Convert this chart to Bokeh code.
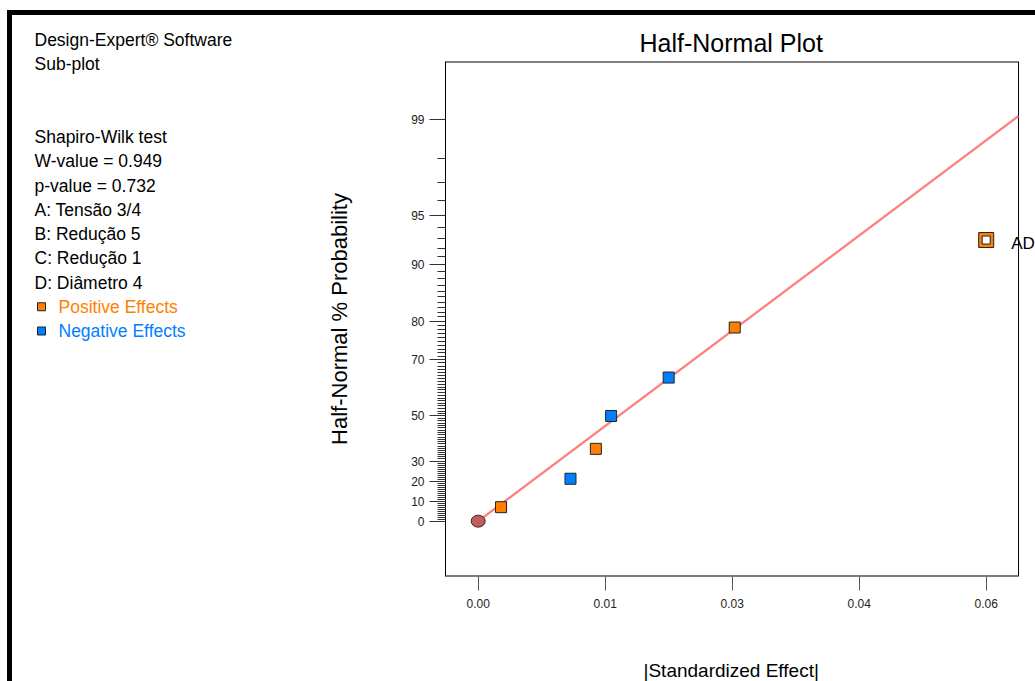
import math
from bokeh.plotting import figure
from bokeh.layouts import row
from bokeh.models import FixedTicker, LabelSet, ColumnDataSource, Range1d, Title
from bokeh.core.properties import value
from bokeh.embed import file_html
from bokeh.resources import INLINE

# ---------------- data ----------------
effect_size = [0.0027, 0.0109, 0.0139, 0.0157, 0.0225, 0.0303, 0.0600]
effect_sign = ["pos", "neg", "pos", "neg", "neg", "pos", "pos"]
half_normal_prob = [7.14, 21.43, 35.71, 50.0, 64.29, 78.57, 92.86]
effect_term = ["", "", "", "", "", "", "AD"]
selected_term = ["AD"]

origin_effect = [0.0]
origin_prob = [0.0]

fit_effect = [0.0, 0.0638]
fit_prob = [0.0, 99.06]

y_tick_probs = [0, 10, 20, 30, 50, 70, 80, 90, 95, 99]
y_tick_labels = ["0", "10", "20", "30", "50", "70", "80", "90", "95", "99"]
x_tick_values = [0.0, 0.015, 0.03, 0.045, 0.06]
x_tick_labels = ["0.00", "0.01", "0.03", "0.04", "0.06"]

info_lines = [
    (0, "Design-Expert® Software"),
    (1, "Sub-plot"),
    (4, "Shapiro-Wilk test"),
    (5, "W-value = 0.949"),
    (6, "p-value = 0.732"),
    (7, "A: Tensão 3/4"),
    (8, "B: Redução 5"),
    (9, "C: Redução 1"),
    (10, "D: Diâmetro 4"),
]
legend_items = [(11, "Positive Effects", "pos"), (12, "Negative Effects", "neg")]

# ---------------- helpers ----------------
def norm_cdf(z):
    return 0.5 * (1.0 + math.erf(z / math.sqrt(2.0)))

def norm_ppf(q):
    lo, hi = -10.0, 10.0
    for _ in range(200):
        mid = 0.5 * (lo + hi)
        if norm_cdf(mid) < q:
            lo = mid
        else:
            hi = mid
    return 0.5 * (lo + hi)

def half_normal(pct):
    if pct <= 0:
        return 0.0
    return norm_ppf(0.5 + pct / 200.0)

COLORS = {"pos": "#ff8000", "neg": "#0080ff"}
SANS = "Liberation Sans"

# ---------------- page geometry (px) ----------------
PAGE_X0, PAGE_Y0 = 12, 15          # top-left of the drawing area (inside black border)
PAGE_X1, PAGE_Y1 = 1035, 681
SPLIT_X = 312                      # boundary between text panel and plot panel
FRAME_L, FRAME_T, FRAME_B = 445, 61, 576

# axis window
X_LO, X_BOX, X_HI = -0.00386, 0.06382, 0.065823   # X_BOX = right edge of the drawn plot box
Y_LO, Y_HI = -0.355, 2.948

# ---------------- left text panel ----------------
left = figure(width=SPLIT_X - PAGE_X0, height=PAGE_Y1 - PAGE_Y0, output_backend="svg",
              toolbar_location=None, x_axis_location=None, y_axis_location=None,
              x_range=Range1d(PAGE_X0, SPLIT_X), y_range=Range1d(PAGE_Y1, PAGE_Y0),
              min_border=0)
left.frame_align = False
left.outline_line_color = None
left.xgrid.visible = False
left.ygrid.visible = False
left.background_fill_color = "white"
left.border_fill_color = "white"

LINE0, LINE_STEP = 39.5, 24.25
left.text(x=[34] * len(info_lines), y=[LINE0 + LINE_STEP * i for i, _ in info_lines],
          text=[t for _, t in info_lines], text_baseline="middle", text_align="left",
          text_font=value(SANS), text_font_size="17.5px", text_color="black")

leg_y = [LINE0 + LINE_STEP * i for i, _, _ in legend_items]
leg_c = [COLORS[s] for _, _, s in legend_items]
left.text(x=[58] * len(legend_items), y=leg_y, text=[t for _, t, _ in legend_items],
          text_baseline="middle", text_align="left", text_font=value(SANS),
          text_font_size="17.5px", text_color=leg_c)
left.scatter(x=[41] * len(legend_items), y=leg_y, marker="square", size=8,
             fill_color=leg_c, line_color="#222222", line_width=1)

# ---------------- main plot ----------------
p = figure(width=PAGE_X1 - SPLIT_X, height=PAGE_Y1 - PAGE_Y0, output_backend="svg",
           toolbar_location=None,
           x_range=Range1d(X_LO, X_HI), y_range=Range1d(Y_LO, Y_HI),
           min_border_left=FRAME_L - SPLIT_X, min_border_right=0,
           min_border_top=FRAME_T - PAGE_Y0, min_border_bottom=PAGE_Y1 - FRAME_B)
p.frame_align = False

p.background_fill_color = "white"
p.border_fill_color = "white"
p.outline_line_color = None
p.xgrid.visible = False
p.ygrid.visible = False

# title, centred over the drawn plot box (not over the wider frame)
p.title.text = "Half-Normal Plot"
p.title.align = "left"
p.title.offset = 194
p.title.text_font = SANS
p.title.text_font_size = "25px"
p.title.text_font_style = "normal"
p.title.text_color = "black"
p.title.standoff = 10

# y axis (half-normal probability scale)
major_z = [round(half_normal(v), 9) for v in y_tick_probs]
minor_z = [round(half_normal(v), 9) for v in range(1, 99) if v not in y_tick_probs]
p.yaxis.ticker = FixedTicker(ticks=major_z, minor_ticks=minor_z)
p.yaxis.major_label_overrides = {z: lab for z, lab in zip(major_z, y_tick_labels)}
p.yaxis.major_tick_out = 16
p.yaxis.major_tick_in = 0
p.yaxis.minor_tick_out = 8
p.yaxis.minor_tick_in = 0
p.yaxis.major_tick_line_color = "#333333"
p.yaxis.minor_tick_line_color = "#333333"
p.yaxis.axis_line_color = "black"
p.yaxis.major_label_text_font = SANS
p.yaxis.major_label_text_font_size = "12px"
p.yaxis.major_label_text_color = "#222222"
p.yaxis.major_label_standoff = 5
p.yaxis.axis_label = "Half-Normal % Probability"
p.yaxis.axis_label_text_font = SANS
p.yaxis.axis_label_text_font_size = "22px"
p.yaxis.axis_label_text_font_style = "normal"
p.yaxis.axis_label_text_color = "black"
p.yaxis.axis_label_standoff = 56

# x axis
p.xaxis.ticker = FixedTicker(ticks=x_tick_values, minor_ticks=[])
p.xaxis.major_label_overrides = {v: lab for v, lab in zip(x_tick_values, x_tick_labels)}
p.xaxis.major_tick_out = 14
p.xaxis.major_tick_in = 0
p.xaxis.minor_tick_out = 0
p.xaxis.minor_tick_in = 0
p.xaxis.major_tick_line_color = "#555555"
p.xaxis.axis_line_color = None
p.xaxis.major_label_text_font = SANS
p.xaxis.major_label_text_font_size = "12px"
p.xaxis.major_label_text_color = "#222222"
p.xaxis.major_label_standoff = 8

# spacer between the tick labels and the x axis title
p.add_layout(Title(text=" ", text_font=SANS, text_font_size="19px", standoff=24), "below")
# x axis title, centred over the plot box
p.add_layout(Title(text="|Standardized Effect|", align="left", offset=198,
                   text_font=SANS, text_font_size="19px", text_font_style="normal",
                   text_color="black", standoff=0), "below")

# plot box (top, right, bottom edges; left edge is the y-axis line)
p.segment(x0=[X_LO, X_BOX, X_LO], y0=[Y_HI, Y_LO, Y_LO],
          x1=[X_BOX, X_BOX, X_BOX], y1=[Y_HI, Y_HI, Y_LO],
          line_color="black", line_width=[2, 1, 2])

# fit line
p.line(fit_effect, [half_normal(v) for v in fit_prob], line_color="#ff7b7b", line_width=2.2)

# origin point
p.ellipse(origin_effect, [half_normal(v) for v in origin_prob], width=14, height=12,
          width_units="screen", height_units="screen",
          fill_color="#bf5e5e", line_color="#3a2020", line_width=1)

# effects
src = ColumnDataSource(dict(
    x=effect_size,
    y=[half_normal(v) for v in half_normal_prob],
    color=[COLORS[s] for s in effect_sign],
    term=effect_term,
))
p.scatter("x", "y", source=src, marker="square", size=11, fill_color="color",
          line_color="#222222", line_width=1)

# highlighted (selected) term: hollow square
sel_x = [x for x, t in zip(effect_size, effect_term) if t in selected_term]
sel_y = [half_normal(v) for v, t in zip(half_normal_prob, effect_term) if t in selected_term]
sel_c = [COLORS[s] for s, t in zip(effect_sign, effect_term) if t in selected_term]
p.scatter(sel_x, sel_y, marker="square", size=15, fill_color=sel_c, line_color="#222222", line_width=1)
p.scatter(sel_x, sel_y, marker="square", size=8, fill_color="white", line_color="#222222", line_width=1)

lab_src = ColumnDataSource(dict(x=sel_x, y=sel_y, t=selected_term))
p.add_layout(LabelSet(x="x", y="y", text="t", source=lab_src, x_offset=25, y_offset=-3,
                      text_baseline="middle", text_font=value(SANS),
                      text_font_size="17px", text_color="black"))

layout = row(left, p, styles={"border-top": "5px solid black", "border-left": "5px solid black",
                              "margin-left": "7px", "margin-top": "10px"})

open("out.html", "w").write(file_html(layout, INLINE))
